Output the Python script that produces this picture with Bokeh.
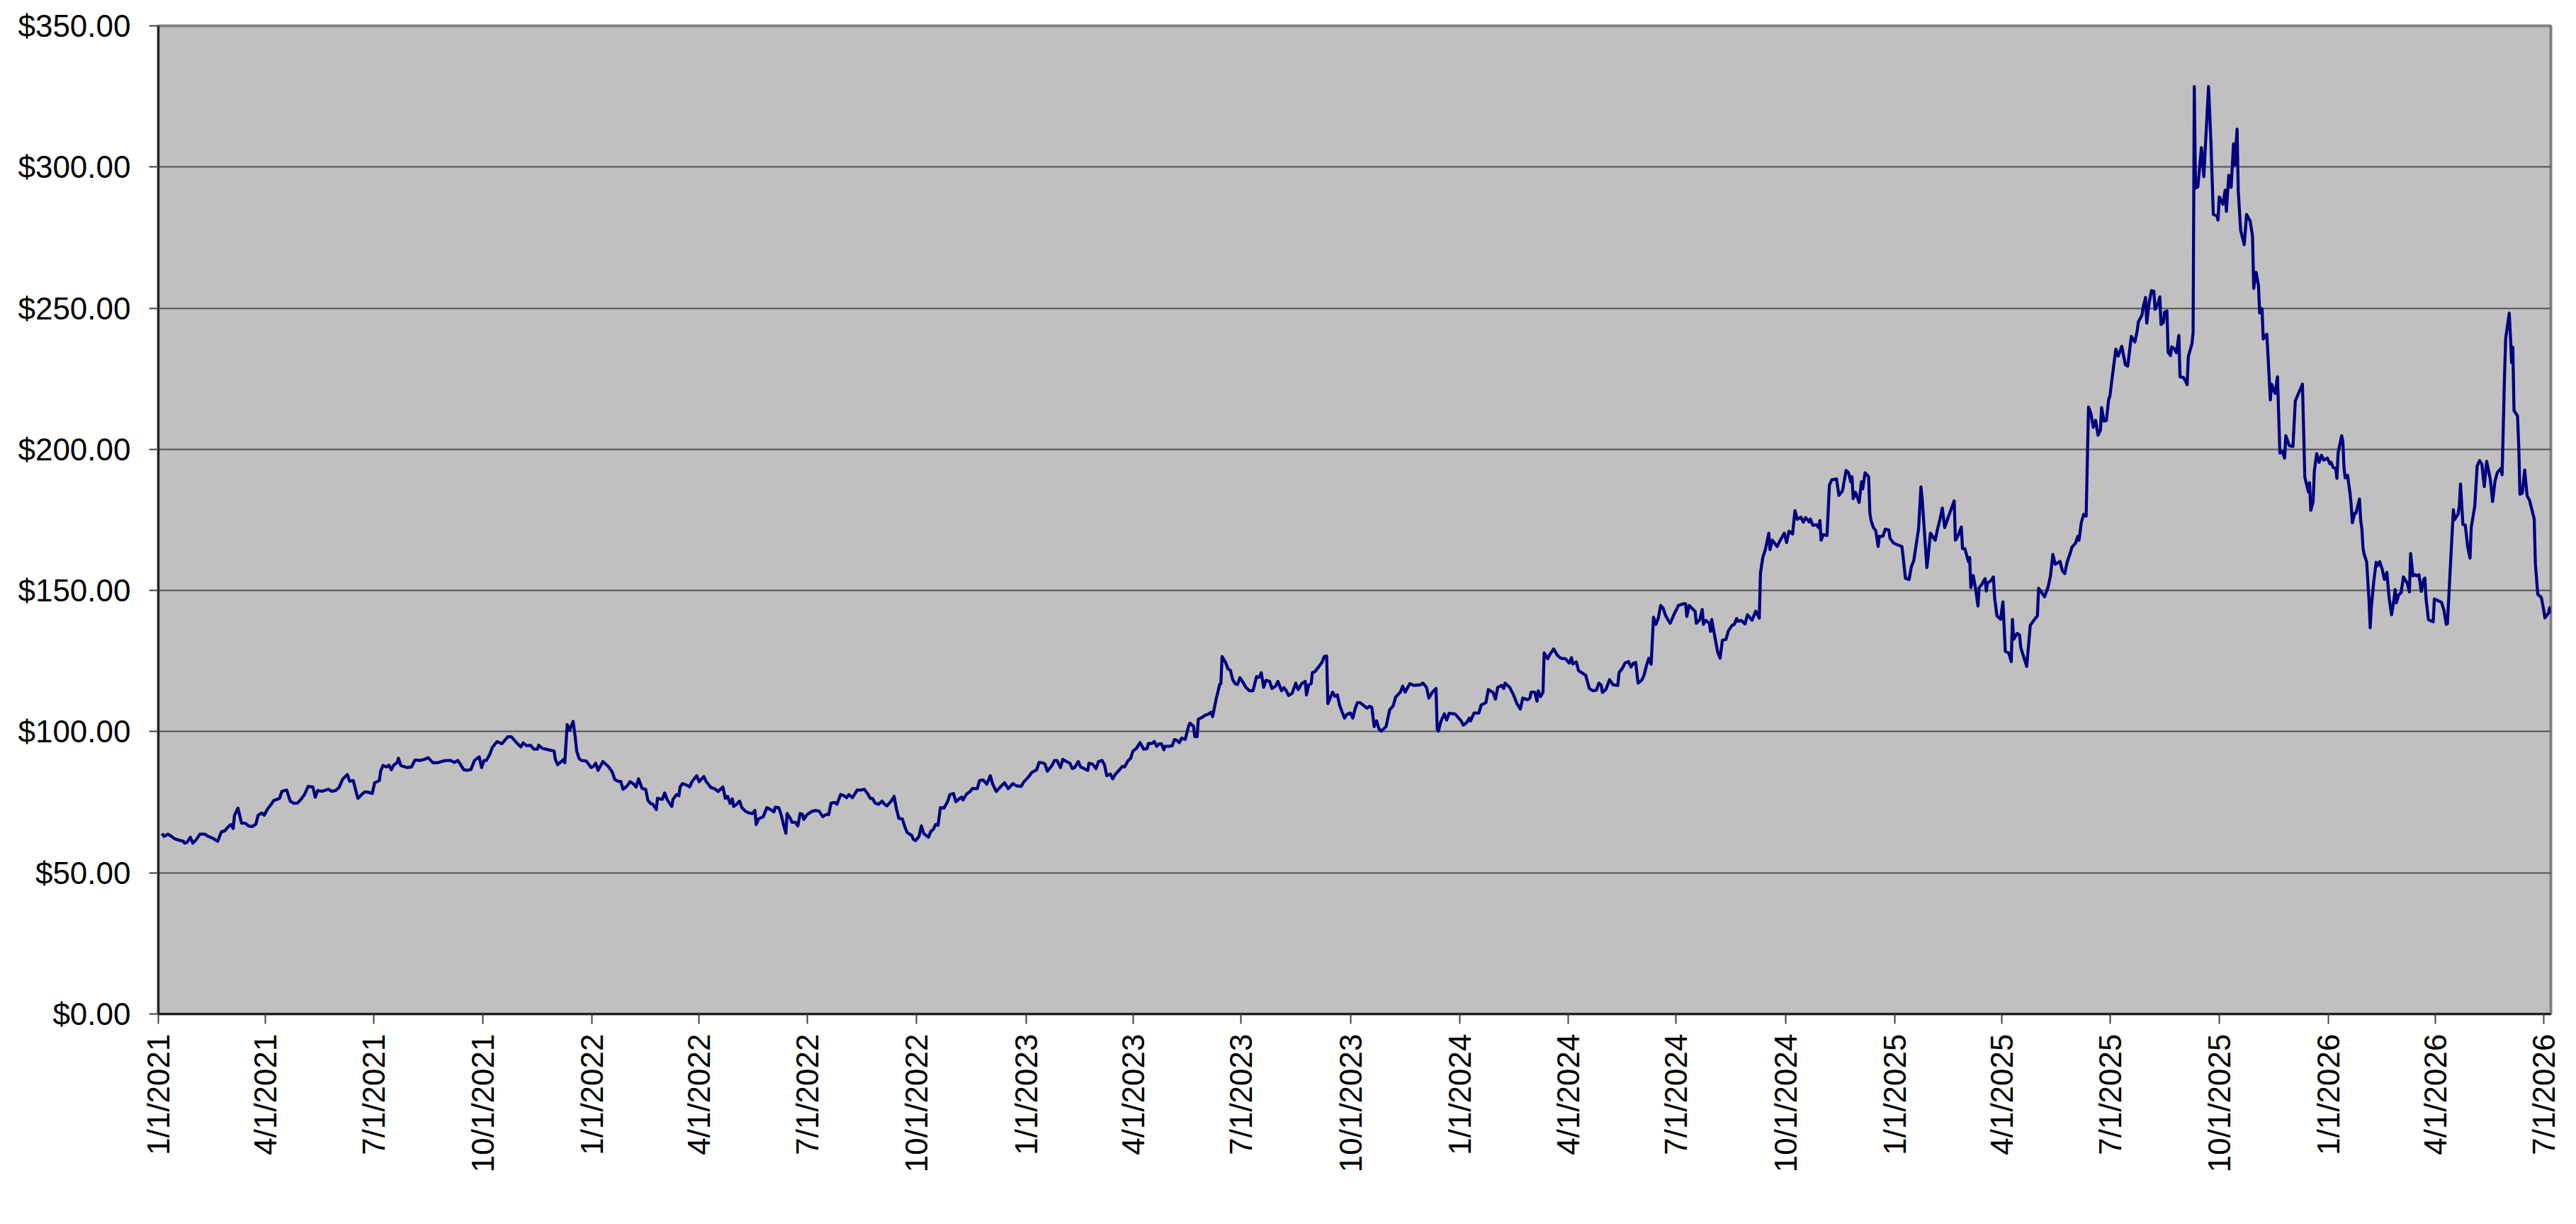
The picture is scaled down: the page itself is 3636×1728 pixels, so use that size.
import math
import pandas as pd
from bokeh.plotting import figure
from bokeh.models import (ColumnDataSource, FixedTicker, NumeralTickFormatter,
                          CustomJSTickFormatter, Range1d)
from bokeh.embed import file_html
from bokeh.resources import INLINE

# ---------------- data ----------------
start_date = "2021-01-01"

# trading day offsets (days since start_date) and closing prices
day_offsets = [
    3, 5, 8, 10, 14, 18, 21, 22, 24, 27, 29, 32, 35, 39, 42, 46, 50, 53, 56, 59,
    61, 63, 64, 67, 70, 73, 76, 79, 82, 84, 87, 89, 92, 95, 97, 102, 104, 108, 111, 114,
    117, 120, 123, 126, 130, 132, 134, 138, 143, 146, 149, 152, 155, 159, 161, 164, 167, 168, 172, 174,
    177, 180, 182, 186, 187, 189, 192, 194, 196, 198, 201, 202, 204, 209, 213, 216, 220, 224, 227, 231,
    235, 238, 242, 246, 249, 252, 254, 257, 260, 263, 266, 270, 272, 274, 276, 279, 281, 285, 289, 294,
    297, 301, 305, 307, 310, 313, 316, 319, 320, 323, 326, 333, 334, 336, 340, 341, 342, 344, 346, 349,
    351, 352, 354, 356, 360, 362, 364, 366, 368, 370, 374, 379, 382, 384, 387, 389, 391, 394, 397, 400,
    402, 404, 407, 410, 412, 414, 416, 419, 420, 424, 426, 428, 432, 433, 436, 438, 439, 441, 445, 447,
    449, 453, 455, 459, 461, 465, 468, 471, 475, 477, 479, 481, 483, 484, 486, 489, 491, 494, 497, 500,
    502, 503, 505, 509, 512, 515, 518, 519, 522, 524, 526, 528, 529, 532, 533, 536, 538, 540, 542, 543,
    546, 550, 553, 556, 559, 562, 564, 566, 569, 571, 574, 577, 579, 581, 584, 588, 591, 594, 597, 599,
    601, 603, 606, 609, 611, 613, 617, 619, 621, 623, 626, 628, 630, 634, 635, 637, 640, 642, 644, 648,
    650, 652, 654, 656, 658, 661, 664, 666, 669, 671, 674, 676, 677, 680, 683, 685, 689, 691, 694, 697,
    700, 702, 705, 708, 712, 715, 719, 722, 726, 728, 732, 735, 739, 741, 744, 746, 748, 752, 754, 756,
    759, 761, 764, 767, 769, 771, 774, 776, 779, 782, 783, 786, 789, 791, 794, 796, 798, 801, 803, 805,
    809, 811, 813, 816, 818, 820, 823, 826, 829, 832, 833, 836, 838, 840, 842, 844, 846, 847, 850, 853,
    855, 857, 859, 861, 864, 867, 868, 871, 872, 874, 875, 878, 881, 883, 886, 887, 890, 893, 894, 895,
    898, 900, 902, 904, 906, 908, 910, 913, 915, 918, 921, 922, 924, 926, 928, 930, 932, 935, 937, 940,
    942, 945, 947, 949, 951, 954, 957, 959, 962, 965, 966, 968, 970, 971, 973, 976, 979, 981, 983, 984,
    986, 988, 990, 992, 994, 998, 1000, 1003, 1005, 1007, 1009, 1011, 1015, 1017, 1019, 1021, 1023, 1025, 1027, 1029,
    1033, 1036, 1039, 1041, 1045, 1047, 1049, 1053, 1056, 1062, 1064, 1067, 1069, 1072, 1075, 1076, 1077, 1079, 1082, 1084,
    1086, 1091, 1096, 1098, 1101, 1103, 1104, 1107, 1111, 1113, 1117, 1119, 1123, 1125, 1127, 1130, 1132, 1133, 1137, 1140,
    1143, 1146, 1148, 1152, 1154, 1155, 1158, 1160, 1161, 1163, 1165, 1166, 1169, 1171, 1174, 1177, 1180, 1184, 1187, 1189,
    1190, 1193, 1195, 1198, 1201, 1204, 1207, 1210, 1212, 1214, 1215, 1218, 1221, 1224, 1228, 1229, 1232, 1234, 1237, 1239,
    1241, 1243, 1245, 1248, 1250, 1252, 1254, 1256, 1258, 1260, 1262, 1264, 1266, 1268, 1270, 1272, 1275, 1279, 1283, 1285,
    1286, 1288, 1293, 1294, 1297, 1299, 1300, 1302, 1305, 1306, 1307, 1310, 1312, 1314, 1316, 1319, 1321, 1324, 1326, 1328,
    1329, 1332, 1335, 1337, 1341, 1344, 1347, 1348, 1350, 1352, 1355, 1356, 1358, 1362, 1365, 1368, 1370, 1372, 1375, 1377,
    1379, 1382, 1384, 1386, 1389, 1390, 1392, 1395, 1397, 1398, 1399, 1401, 1404, 1406, 1408, 1412, 1414, 1417, 1420, 1422,
    1424, 1425, 1426, 1428, 1431, 1433, 1434, 1436, 1439, 1440, 1441, 1443, 1445, 1447, 1448, 1451, 1453, 1456, 1457, 1460,
    1463, 1467, 1468, 1470, 1473, 1475, 1477, 1481, 1483, 1484, 1488, 1489, 1491, 1495, 1497, 1499, 1501, 1503, 1506, 1511,
    1512, 1514, 1517, 1518, 1520, 1523, 1524, 1525, 1527, 1529, 1531, 1532, 1534, 1537, 1538, 1539, 1542, 1544, 1545, 1547,
    1550, 1552, 1554, 1557, 1559, 1560, 1561, 1564, 1566, 1567, 1572, 1575, 1579, 1581, 1582, 1587, 1590, 1592, 1594, 1596,
    1600, 1602, 1604, 1606, 1609, 1610, 1613, 1615, 1616, 1618, 1620, 1622, 1624, 1626, 1628, 1630, 1632, 1634, 1635, 1637,
    1639, 1641, 1642, 1645, 1647, 1649, 1652, 1655, 1657, 1660, 1663, 1665, 1666, 1669, 1670, 1672, 1673, 1675, 1677, 1679,
    1680, 1682, 1684, 1685, 1687, 1688, 1690, 1691, 1693, 1694, 1696, 1698, 1700, 1701, 1704, 1706, 1707, 1708, 1711, 1712,
    1713, 1714, 1716, 1719, 1721, 1725, 1727, 1729, 1732, 1733, 1734, 1737, 1739, 1740, 1742, 1744, 1746, 1747, 1749, 1750,
    1752, 1755, 1757, 1760, 1762, 1763, 1765, 1767, 1768, 1770, 1771, 1774, 1775, 1777, 1778, 1781, 1783, 1785, 1787, 1789,
    1790, 1793, 1796, 1798, 1802, 1804, 1806, 1809, 1810, 1811, 1813, 1814, 1816, 1818, 1820, 1822, 1825, 1827, 1828, 1830,
    1832, 1833, 1834, 1837, 1838, 1839, 1840, 1842, 1844, 1845, 1846, 1848, 1849, 1852, 1853, 1854, 1855, 1856, 1858, 1860,
    1861, 1862, 1864, 1866, 1867, 1869, 1871, 1873, 1875, 1877, 1879, 1881, 1882, 1883, 1885, 1887, 1889, 1892, 1894, 1895,
    1897, 1899, 1900, 1902, 1904, 1906, 1907, 1908, 1910, 1914, 1915, 1918, 1921, 1923, 1925, 1926, 1928, 1931, 1932, 1935,
    1936, 1937, 1939, 1941, 1943, 1945, 1946, 1949, 1951, 1953, 1955, 1957, 1959, 1962, 1964, 1966, 1968, 1970, 1971, 1972,
    1974, 1975, 1978, 1979, 1980, 1981, 1982, 1985, 1986, 1987, 1989, 1991, 1993, 1995, 1999, 2000, 2002, 2005, 2007, 2008,
    2011, 2012, 2013,
]

prices = [
    63.9, 62.9, 63.7, 63.2, 62.0, 61.5, 61.2, 60.5, 60.8, 62.6, 60.5, 61.8, 63.7, 63.7, 62.9, 62.2, 61.2, 64.5, 64.9, 66.4,
    67.1, 65.7, 70.2, 72.9, 67.6, 67.6, 66.6, 66.4, 67.2, 70.4, 71.2, 70.4, 72.7, 74.3, 75.6, 76.4, 78.9, 79.3, 75.4, 74.6,
    74.7, 76.0, 77.7, 80.6, 80.4, 76.8, 79.1, 78.9, 79.6, 78.9, 79.1, 80.2, 83.1, 84.8, 82.4, 82.7, 77.7, 76.4, 78.1, 78.7,
    78.5, 78.1, 81.9, 82.7, 86.0, 88.0, 87.5, 88.1, 86.5, 88.1, 89.1, 90.6, 88.0, 87.3, 87.5, 90.0, 89.8, 90.2, 90.8, 89.0,
    89.0, 89.4, 89.8, 89.8, 89.1, 89.8, 88.5, 86.5, 86.3, 86.6, 89.8, 91.1, 87.3, 89.8, 89.8, 92.1, 94.4, 96.5, 95.7, 98.2,
    98.2, 96.3, 94.6, 96.0, 95.0, 95.2, 93.8, 93.8, 95.2, 94.1, 93.8, 93.1, 90.2, 88.3, 89.8, 90.2, 89.0, 102.5, 100.5, 103.6,
    97.3, 93.1, 90.5, 89.8, 89.6, 88.5, 87.3, 87.7, 88.8, 86.3, 89.4, 87.5, 85.6, 83.1, 82.4, 82.4, 79.6, 80.6, 82.3, 81.4,
    80.4, 83.3, 79.9, 79.6, 75.6, 74.6, 74.3, 72.4, 76.4, 76.0, 78.3, 76.0, 73.5, 76.0, 77.7, 77.3, 80.4, 81.6, 81.0, 80.4,
    82.3, 84.4, 82.3, 84.1, 82.3, 80.2, 79.8, 78.8, 80.4, 76.4, 77.1, 74.6, 76.2, 73.5, 74.1, 75.4, 73.1, 71.8, 71.2, 71.0,
    72.1, 67.1, 69.1, 69.9, 73.1, 72.4, 71.6, 73.2, 73.1, 70.6, 67.1, 64.0, 71.0, 69.1, 67.9, 67.9, 66.6, 71.0, 70.7, 68.9,
    70.7, 71.8, 72.1, 71.8, 69.9, 70.7, 70.6, 74.7, 74.9, 74.3, 77.7, 77.3, 76.6, 77.7, 76.6, 79.3, 79.3, 79.6, 77.9, 76.4,
    76.3, 74.7, 74.3, 75.4, 74.3, 73.7, 75.6, 77.1, 72.7, 69.3, 69.1, 66.4, 64.3, 63.2, 62.0, 61.4, 62.9, 66.6, 63.9, 62.6,
    64.7, 65.4, 67.1, 66.8, 73.1, 72.9, 75.2, 77.7, 78.1, 75.2, 76.3, 76.8, 75.8, 77.9, 78.8, 79.9, 79.8, 82.7, 82.9, 81.4,
    84.4, 81.4, 78.8, 80.2, 81.9, 79.8, 81.6, 80.8, 80.6, 82.1, 83.9, 85.6, 86.5, 89.1, 89.0, 88.5, 86.0, 88.1, 89.8, 89.8,
    87.3, 90.2, 89.4, 88.8, 86.9, 87.3, 89.4, 87.5, 86.9, 86.3, 88.8, 88.5, 86.9, 89.4, 89.8, 88.3, 84.4, 85.0, 83.3, 84.8,
    86.6, 87.7, 87.5, 89.8, 90.5, 93.1, 94.1, 96.1, 93.8, 94.0, 95.8, 95.8, 96.5, 94.8, 95.7, 95.7, 93.6, 94.8, 94.8, 95.0,
    97.2, 96.9, 96.1, 97.7, 97.3, 102.2, 103.0, 101.9, 98.3, 98.2, 104.4, 105.0, 105.9, 106.1, 106.9, 105.3, 111.5, 116.7, 117.0, 126.6,
    124.5, 122.2, 121.7, 118.4, 117.0, 116.7, 119.1, 117.2, 115.7, 114.5, 114.5, 116.1, 119.5, 119.2, 120.9, 115.7, 118.2, 117.8, 115.3, 116.1,
    117.8, 114.5, 115.6, 114.5, 112.8, 113.6, 117.2, 114.9, 117.0, 117.8, 113.0, 116.6, 117.0, 120.9, 121.2, 122.8, 124.5, 126.6, 126.8, 109.9,
    112.0, 114.0, 112.5, 113.0, 109.2, 104.8, 106.1, 106.6, 104.8, 108.2, 110.3, 110.3, 109.0, 108.3, 109.0, 108.6, 101.8, 103.8, 101.0, 100.2,
    101.8, 107.7, 109.2, 112.2, 114.0, 116.1, 114.0, 117.0, 116.4, 116.6, 117.2, 115.7, 111.9, 114.0, 115.3, 101.0, 100.2, 103.5, 106.3, 104.1,
    106.5, 106.3, 103.9, 102.3, 103.3, 104.8, 103.8, 106.6, 106.6, 109.4, 110.3, 114.9, 113.9, 111.5, 115.7, 116.4, 115.3, 117.2, 115.7, 113.2,
    110.0, 108.0, 111.9, 111.3, 111.9, 114.0, 114.0, 110.8, 114.5, 112.4, 113.9, 127.9, 125.8, 127.5, 129.3, 127.1, 126.0, 125.8, 124.3, 126.2,
    124.0, 124.7, 121.6, 120.8, 119.9, 115.3, 114.5, 114.7, 117.2, 116.4, 113.9, 115.0, 118.4, 116.6, 116.4, 120.9, 122.6, 124.3, 124.8, 122.9,
    124.2, 124.5, 117.2, 118.2, 119.9, 123.3, 126.0, 123.9, 140.5, 138.0, 140.1, 144.7, 143.8, 141.3, 139.7, 138.4, 141.3, 144.7, 145.3, 145.3,
    140.8, 144.7, 142.6, 138.4, 139.7, 143.3, 138.0, 139.4, 138.4, 135.5, 139.7, 132.7, 128.2, 126.0, 132.4, 132.7, 135.7, 137.6, 138.0, 140.1,
    139.1, 139.4, 138.1, 141.4, 139.5, 142.7, 140.2, 156.2, 161.8, 164.3, 170.3, 164.5, 167.8, 165.6, 168.1, 170.3, 167.0, 171.0, 170.0, 178.3,
    175.2, 176.0, 174.2, 175.8, 174.3, 175.3, 173.1, 173.3, 172.3, 174.8, 167.8, 169.8, 169.5, 187.3, 189.2, 189.5, 183.7, 185.3, 192.5, 191.8,
    188.5, 190.3, 182.5, 184.8, 181.2, 188.5, 186.0, 191.7, 190.3, 177.7, 174.8, 172.3, 171.2, 165.6, 169.2, 169.2, 171.7, 171.4, 168.5, 166.8,
    166.2, 165.6, 162.0, 154.3, 153.9, 158.5, 160.6, 171.8, 186.7, 182.7, 158.1, 161.8, 170.3, 167.8, 171.8, 175.2, 179.2, 172.3, 176.0, 181.7,
    167.8, 169.2, 172.5, 164.8, 164.8, 160.2, 161.7, 151.0, 155.3, 150.6, 144.5, 151.0, 152.0, 154.2, 149.8, 152.7, 153.5, 154.8, 147.3, 141.0,
    139.8, 146.0, 128.5, 127.8, 124.8, 139.8, 132.7, 134.8, 134.2, 129.8, 123.1, 137.7, 140.0, 141.0, 150.8, 147.8, 151.2, 155.2, 162.8, 159.3,
    160.3, 157.0, 156.0, 160.0, 163.7, 165.3, 166.7, 169.2, 167.8, 174.2, 177.0, 176.4, 215.0, 212.7, 207.8, 210.3, 205.0, 206.7, 214.8, 210.0,
    210.2, 217.7, 218.9, 229.0, 235.5, 233.0, 236.5, 230.0, 229.5, 240.0, 238.0, 242.1, 245.2, 247.6, 250.4, 253.8, 244.7, 251.9, 256.2, 256.0,
    249.6, 251.1, 254.0, 244.2, 244.9, 248.6, 249.0, 234.4, 233.2, 236.3, 235.7, 234.2, 240.4, 225.7, 225.4, 223.9, 222.9, 232.9, 237.3, 241.4,
    328.5, 292.5, 293.0, 306.9, 296.6, 328.5, 308.9, 283.2, 282.7, 281.2, 289.4, 286.8, 291.8, 284.3, 297.1, 292.8, 308.2, 300.7, 313.4, 291.5,
    277.6, 272.5, 283.2, 280.9, 275.5, 257.0, 262.7, 258.1, 248.3, 249.8, 239.1, 240.8, 233.4, 217.5, 223.1, 219.8, 225.7, 198.7, 199.3, 196.9,
    204.8, 201.3, 201.0, 217.2, 221.1, 223.1, 190.2, 184.9, 188.2, 178.4, 181.5, 192.3, 198.5, 195.4, 197.9, 196.2, 196.9, 194.9, 195.4, 193.5,
    193.3, 189.7, 198.7, 204.8, 203.0, 193.3, 189.9, 190.8, 184.5, 180.3, 174.0, 177.4, 177.4, 182.4, 174.9, 171.9, 164.8, 162.7, 160.2, 146.8,
    136.8, 144.3, 153.1, 160.0, 158.7, 160.2, 157.7, 153.9, 156.4, 147.2, 141.4, 146.8, 150.3, 145.6, 148.5, 149.2, 154.8, 152.7, 149.5, 163.1,
    155.2, 155.6, 155.2, 155.6, 149.7, 153.9, 154.4, 147.0, 139.7, 138.9, 147.0, 146.4, 145.8, 143.1, 138.0, 138.3, 154.8, 178.6, 175.1, 177.1,
    179.9, 187.7, 173.4, 173.2, 165.6, 161.5, 172.3, 179.9, 194.1, 196.0, 194.7, 186.8, 195.8, 189.5, 181.5, 188.7, 191.8, 192.8, 193.3, 191.0,
    225.6, 239.3, 248.2, 240.1, 230.7, 236.2, 213.8, 211.7, 201.0, 184.1, 184.5, 192.7, 183.6, 182.0, 175.4, 159.4, 148.7, 147.5, 143.1, 140.3,
    142.0, 143.9, 141.8,
]

tick_dates = [
    "2021-01-01", "2021-04-01", "2021-07-01", "2021-10-01",
    "2022-01-01", "2022-04-01", "2022-07-01", "2022-10-01",
    "2023-01-01", "2023-04-01", "2023-07-01", "2023-10-01",
    "2024-01-01", "2024-04-01", "2024-07-01", "2024-10-01",
    "2025-01-01", "2025-04-01", "2025-07-01", "2025-10-01",
    "2026-01-01", "2026-04-01", "2026-07-01",
]
y_ticks = [0, 50, 100, 150, 200, 250, 300, 350]

# ---------------- build ----------------
n = min(len(day_offsets), len(prices))
dates = pd.Timestamp(start_date) + pd.to_timedelta(day_offsets[:n], unit="D")
source = ColumnDataSource(data=dict(date=dates, price=prices[:n]))

x_start = pd.Timestamp(start_date)
x_end = dates[-1]

p = figure(
    width=3620, height=1712,
    x_axis_type="datetime",
    x_range=Range1d(x_start, x_end),
    y_range=Range1d(y_ticks[0], y_ticks[-1]),
    output_backend="svg",
    toolbar_location=None,
    min_border_left=223, min_border_right=20,
    min_border_top=36, min_border_bottom=281,
)

p.background_fill_color = "#C0C0C0"
p.border_fill_color = "#FFFFFF"
p.outline_line_color = "#808080"
p.outline_line_width = 4

p.line(x="date", y="price", source=source, line_color="#000080", line_width=4.3,
       line_join="round")

# grid
p.xgrid.grid_line_color = None
p.ygrid.grid_line_color = "#505050"
p.ygrid.grid_line_width = 2

font = "Liberation Sans"

# y axis
p.yaxis.ticker = FixedTicker(ticks=y_ticks)
p.yaxis.formatter = NumeralTickFormatter(format="$0.00")
p.yaxis.major_label_text_font = font
p.yaxis.major_label_text_font_size = "44px"
p.yaxis.major_label_text_color = "#000000"
p.yaxis.major_label_standoff = 26
p.yaxis.major_tick_out = 13
p.yaxis.major_tick_in = 0
p.yaxis.minor_tick_line_color = None
p.yaxis.major_tick_line_color = "#404040"
p.yaxis.major_tick_line_width = 2
p.yaxis.axis_line_color = "#202020"
p.yaxis.axis_line_width = 3

# x axis
tick_ms = [pd.Timestamp(d).value // 10**6 for d in tick_dates]
p.xaxis.ticker = FixedTicker(ticks=tick_ms)
p.xaxis.formatter = CustomJSTickFormatter(code="""
    const d = new Date(tick);
    return (d.getUTCMonth() + 1) + '/' + d.getUTCDate() + '/' + d.getUTCFullYear();
""")
p.xaxis.major_label_orientation = math.pi / 2
p.xaxis.major_label_text_font = font
p.xaxis.major_label_text_font_size = "44px"
p.xaxis.major_label_text_color = "#000000"
p.xaxis.major_label_standoff = 14
p.xaxis.major_tick_out = 14
p.xaxis.major_tick_in = 0
p.xaxis.minor_tick_line_color = None
p.xaxis.major_tick_line_color = "#404040"
p.xaxis.major_tick_line_width = 2
p.xaxis.axis_line_color = "#202020"
p.xaxis.axis_line_width = 3

open("out.html", "w").write(file_html(p, INLINE))
